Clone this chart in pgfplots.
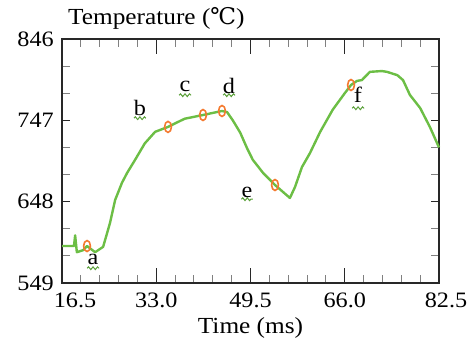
\documentclass[border=0pt]{standalone}
\usepackage{fontspec}
\setmainfont[FakeStretch=1.1]{Liberation Serif}
\newfontfamily\symfont[FakeStretch=1.0]{DejaVu Serif}
\usepackage{pgfplots}
\pgfplotsset{compat=1.18}
\usetikzlibrary{decorations.pathmorphing}
\definecolor{curvegreen}{RGB}{108,190,69}
\definecolor{markorange}{RGB}{244,122,48}
\definecolor{axisgray}{RGB}{40,40,40}
\begin{document}
\begin{tikzpicture}
\begin{axis}[
  width=377pt, height=244pt, scale only axis,
  xmin=16.5, xmax=82.5, ymin=549, ymax=846,
  xtick={33,49.5,66,82.5},
  xticklabels={33.0,49.5,66.0,\hspace{14pt}82.5},
  extra x ticks={16.5},
  extra x tick labels={16.5},
  extra x tick style={xticklabel style={xshift=13pt}},
  minor xtick={19.8,23.1,26.4,29.7,36.3,39.6,42.9,46.2,52.8,56.1,59.4,62.7,69.3,72.6,75.9,79.2},
  ytick={549,648,747,846},
  minor y tick num=2,
  tick align=inside,
  major tick length=8pt, minor tick length=8pt,
  xtick style={/pgfplots/major tick length=15pt},
  major tick style={axisgray, line width=1.2pt},
  minor tick style={gray, line width=1pt},
  axis line style={axisgray, line width=1.6pt},
  ticklabel style={font=\fontsize{22}{24}\selectfont, inner sep=0pt},
  yticklabel style={xshift=-8pt},
  xticklabel style={yshift=-10pt},
  /pgf/number format/assume math mode=true,
  clip=false,
]
\addplot[curvegreen, line width=2.4pt, line join=round] coordinates {
(16.5,594) (18.6,594) (18.8,607) (19.1,586.5) (20.2,589) (20.88,594) (22.3,586.5) (23.7,593)
(24.9,622) (25.8,650) (27.0,671) (27.9,683) (29.3,699) (31.0,719) (32.8,733) (35.06,739)
(36.8,745) (38.0,749) (41.19,753.5) (44.51,758.4) (45.4,757) (46.4,747) (47.7,732) (48.9,713)
(49.9,699) (51.7,683) (53.79,668.3) (56.4,652.5) (57.3,666) (58.5,690) (59.9,707) (61.7,733)
(63.9,760) (66.0,780) (67.1,790) (68.15,795) (69.0,796) (70.4,806) (72.5,807) (73.4,806)
(75.2,802) (76.2,796) (77.4,778) (79.2,762) (80.9,739) (82.5,714)
};
\addplot[only marks, mark=o, mark size=5.5pt,
  mark options={markorange, line width=1.6pt, xscale=0.62}] coordinates {
(20.88,594) (35.06,739) (41.19,753.5) (44.51,758.4) (53.79,668.3) (67.1,790)
};
\addplot[only marks, mark=none, nodes near coords, point meta=explicit symbolic,
  every node near coord/.style={anchor=center, inner sep=0pt, font=\fontsize{22}{24}\selectfont, black}]
  table[meta=lab] {
x y lab
21.93 578.2 a
30.16 762.0 b
38.03 788.8 c
45.74 788.8 d
48.89 659.8 e
68.32 777.8 f
};
\foreach \xa/\xb/\yy in {20.9/23.0/567.0, 29.1/31.2/749.6, 37.0/39.1/777.6, 44.7/46.8/777.6, 47.9/49.9/651.0, 67.3/69.4/761.7}{
  \edef\temp{\noexpand\draw[curvegreen!85!black, line width=1pt, decorate, decoration={snake, amplitude=1.4pt, segment length=4.5pt}] (axis cs:\xa,\yy) -- (axis cs:\xb,\yy);}
  \temp
}
\node[anchor=base west, inner sep=0pt, font=\fontsize{23}{25}\selectfont] at ([xshift=6pt,yshift=14pt]rel axis cs:0,1) {Temperature ({\symfont ℃})};
\node[anchor=base, inner sep=0pt, font=\fontsize{23}{25}\selectfont] at ([yshift=-50pt]rel axis cs:0.5,0) {Time (ms)};
\end{axis}
\path[use as bounding box] ([shift={(-62pt,-57pt)}]current axis.south west) rectangle ([shift={(37pt,39pt)}]current axis.north east);
\end{tikzpicture}
\end{document}
